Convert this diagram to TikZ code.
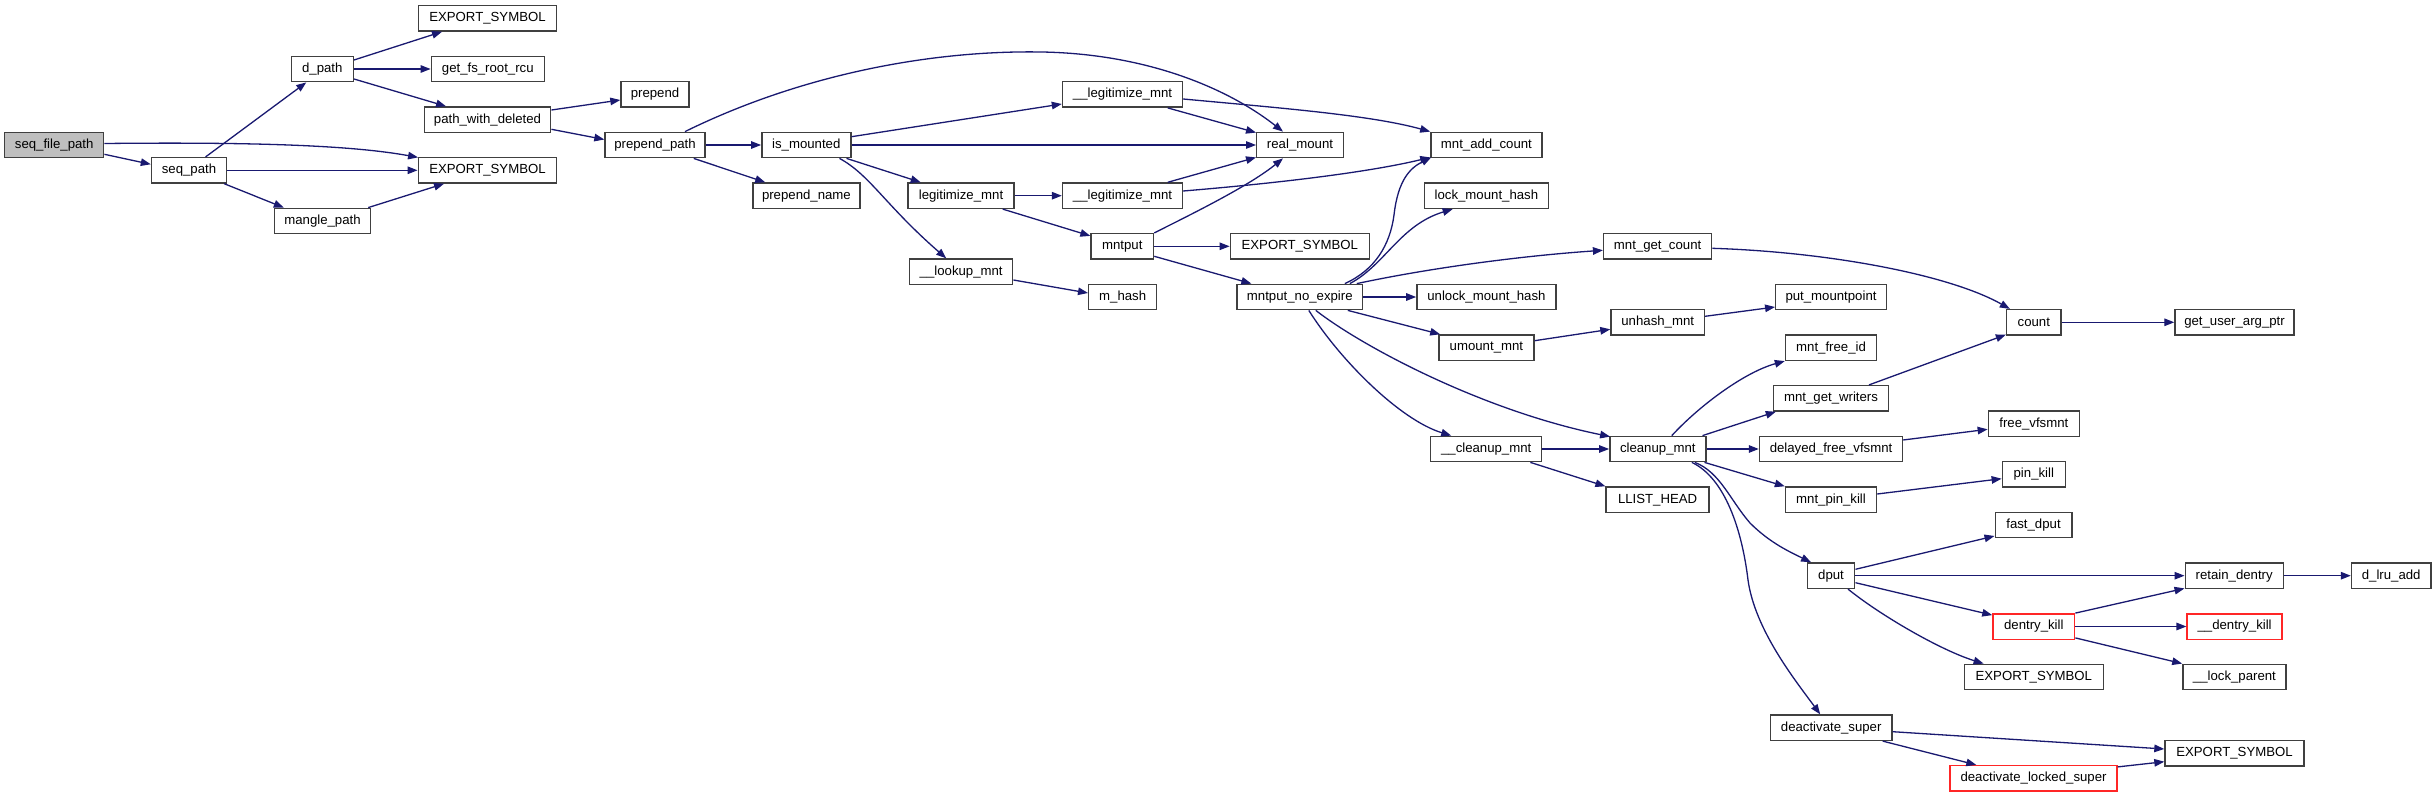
\documentclass[tikz,border=0pt]{standalone}
\usepackage{fontspec}
\setmainfont{Liberation Sans}
\usetikzlibrary{arrows.meta,calc}
\definecolor{edgec}{HTML}{191970}
\definecolor{boxc}{HTML}{404040}
\definecolor{redc}{HTML}{FF2626}
\definecolor{grayfill}{HTML}{BFBFBF}
\begin{document}
\begin{tikzpicture}[x=1pt,y=-1pt,
  fn/.style={draw=boxc,line width=1.4pt,fill=white,minimum height=25.4pt,inner sep=0pt,
    font=\fontsize{13.2}{15}\selectfont},
  redfn/.style={fn,draw=redc},
  rootfn/.style={fn,fill=grayfill},
  e/.style={draw=edgec,line width=1.3pt,-{Triangle[length=10pt,width=7.5pt]}}]
\useasboundingbox[fill=white] (0,0) rectangle (2436,797);
% nodes
\node[rootfn,minimum width=99pt] (sfp) at (54.2,145) {seq\_file\_path};
\node[fn,minimum width=75pt] (seqpath) at (189,170.3) {seq\_path};
\node[fn,minimum width=62pt] (dpath) at (322.3,69) {d\_path};
\node[fn,minimum width=138.5pt] (exp1) at (487.5,18.3) {EXPORT\_SYMBOL};
\node[fn,minimum width=113pt] (getfs) at (487.8,69) {get\_fs\_root\_rcu};
\node[fn,minimum width=126.5pt] (pwd) at (487.5,119.7) {path\_with\_deleted};
\node[fn,minimum width=138.5pt] (exp2) at (487.5,170.3) {EXPORT\_SYMBOL};
\node[fn,minimum width=96pt] (mangle) at (322.5,221) {mangle\_path};
\node[fn,minimum width=68pt] (prepend) at (655,94.5) {prepend};
\node[fn,minimum width=100pt] (ppath) at (655,145) {prepend\_path};
\node[fn,minimum width=89pt] (ismnt) at (806.3,145) {is\_mounted};
\node[fn,minimum width=107pt] (pname) at (806.4,195.7) {prepend\_name};
\node[fn,minimum width=120pt] (legtop) at (1122.5,94.5) {\_\_legitimize\_mnt};
\node[fn,minimum width=106pt] (legit) at (961,195.7) {legitimize\_mnt};
\node[fn,minimum width=120pt] (legbot) at (1122.5,195.7) {\_\_legitimize\_mnt};
\node[fn,minimum width=62.5pt] (mntput) at (1122.3,246.3) {mntput};
\node[fn,minimum width=103pt] (lookup) at (961.2,271.7) {\_\_lookup\_mnt};
\node[fn,minimum width=68pt] (mhash) at (1122.7,297) {m\_hash};
\node[fn,minimum width=86.6pt] (realmnt) at (1300,145) {real\_mount};
\node[fn,minimum width=111pt] (addcnt) at (1486.4,145) {mnt\_add\_count};
\node[fn,minimum width=124pt] (lockmh) at (1486.4,195.7) {lock\_mount\_hash};
\node[fn,minimum width=139pt] (exp3) at (1299.8,246.3) {EXPORT\_SYMBOL};
\node[fn,minimum width=125.5pt] (mne) at (1299.8,297) {mntput\_no\_expire};
\node[fn,minimum width=139pt] (unlockmh) at (1486.4,297) {unlock\_mount\_hash};
\node[fn,minimum width=108pt] (getcnt) at (1657.6,246.3) {mnt\_get\_count};
\node[fn,minimum width=110.5pt] (putmp) at (1831,297) {put\_mountpoint};
\node[fn,minimum width=93.4pt] (unhash) at (1657.7,322.3) {unhash\_mnt};
\node[fn,minimum width=95pt] (umount) at (1486.4,347.7) {umount\_mnt};
\node[fn,minimum width=91pt] (freeid) at (1831,347.7) {mnt\_free\_id};
\node[fn,minimum width=115pt] (getwr) at (1831,398.3) {mnt\_get\_writers};
\node[fn,minimum width=111pt] (ccleanup) at (1486.2,449) {\_\_cleanup\_mnt};
\node[fn,minimum width=96pt] (cleanup) at (1657.8,449) {cleanup\_mnt};
\node[fn,minimum width=143pt] (dfree) at (1831,449) {delayed\_free\_vfsmnt};
\node[fn,minimum width=103pt] (llist) at (1657.6,499.7) {LLIST\_HEAD};
\node[fn,minimum width=91pt] (pinkillm) at (1831,499.7) {mnt\_pin\_kill};
\node[fn,minimum width=54.5pt] (count) at (2033.8,322.3) {count};
\node[fn,minimum width=119pt] (getuap) at (2234.5,322.3) {get\_user\_arg\_ptr};
\node[fn,minimum width=91pt] (freevfs) at (2033.8,423.7) {free\_vfsmnt};
\node[fn,minimum width=63pt] (pinkill) at (2033.8,474.3) {pin\_kill};
\node[fn,minimum width=76.6pt] (fastdput) at (2033.5,525) {fast\_dput};
\node[fn,minimum width=47.5pt] (dput) at (1831,575.7) {dput};
\node[fn,minimum width=98pt] (retain) at (2234.2,575.7) {retain\_dentry};
\node[fn,minimum width=79.4pt] (dlru) at (2391.2,575.7) {d\_lru\_add};
\node[redfn,minimum width=81.7pt] (dkill) at (2033.8,626.5) {dentry\_kill};
\node[redfn,minimum width=95pt] (ddkill) at (2234.6,626.5) {\_\_dentry\_kill};
\node[fn,minimum width=139pt] (exp4) at (2033.8,677) {EXPORT\_SYMBOL};
\node[fn,minimum width=103pt] (lockpar) at (2234.4,677) {\_\_lock\_parent};
\node[fn,minimum width=121.5pt] (deact) at (1831.2,727.7) {deactivate\_super};
\node[fn,minimum width=139pt] (exp5) at (2234.5,753.3) {EXPORT\_SYMBOL};
\node[redfn,minimum width=167pt] (dls) at (2033.5,778.3) {deactivate\_locked\_super};
% edges
\draw[e] ($(sfp.east)+(0,9.3)$) -- ($(seqpath.west)+(0,-6)$);
\draw[e] ($(sfp.east)+(0,-1.5)$) .. controls (250,142) and (350,145) .. ($(exp2.north west)+(0.5,0.5)$);
\draw[e] ($(seqpath.north)+(16.6,0)$) -- ($(dpath.south)+(-16,0)$);
\draw[e] (seqpath.east) -- (exp2.west);
\draw[e] ($(seqpath.south east)+(-3,0)$) -- ($(mangle.north west)+(10,0)$);
\draw[e] ($(mangle.north east)+(-3,0)$) -- ($(exp2.south west)+(26.5,0)$);
\draw[e] ($(dpath.east)+(0,-9)$) -- ($(exp1.south west)+(24.5,0)$);
\draw[e] (dpath.east) -- (getfs.west);
\draw[e] ($(dpath.east)+(0,10)$) -- ($(pwd.north west)+(22.5,0)$);
\draw[e] ($(pwd.east)+(0,-9.7)$) -- ($(prepend.west)+(0,5.5)$);
\draw[e] ($(pwd.east)+(0,9.6)$) -- ($(ppath.west)+(0,-5.5)$);
\draw[e] (ppath.east) -- (ismnt.west);
\draw[e] ($(ppath.south east)+(-12,0)$) -- ($(pname.north west)+(13,0)$);
\draw[e] ($(ppath.north)+(30,0)$) .. controls (800,75) and (930,50) .. (1042,52)
  .. controls (1150,54) and (1230,90) .. ($(realmnt.north)+(-17,0)$);
\draw[e] ($(ismnt.east)+(0,-8.3)$) -- ($(legtop.west)+(0,9.5)$);
\draw[e] (ismnt.east) -- (realmnt.west);
\draw[e] ($(ismnt.south east)+(-5,0)$) -- ($(legit.north west)+(13.4,0)$);
\draw[e] ($(ismnt.south east)+(-12,0)$) .. controls (870,175) and (885,205) .. ($(lookup.north)+(-15,0)$);
\draw[e] (legit.east) -- (legbot.west);
\draw[e] ($(legit.south east)+(-12,0)$) -- ($(mntput.north west)+(0,3)$);
\draw[e] ($(lookup.east)+(0,8.3)$) -- ($(mhash.west)+(0,-4)$);
\draw[e] ($(legtop.south east)+(-15.5,0)$) -- ($(realmnt.north west)+(0,1)$);
\draw[e] ($(legtop.east)+(0,4.5)$) .. controls (1280,108) and (1370,115) .. (addcnt.north west);
\draw[e] ($(legbot.north east)+(-15.5,0)$) -- ($(realmnt.south west)+(0,-1)$);
\draw[e] ($(legbot.east)+(0,-4.7)$) .. controls (1280,183) and (1370,172) .. ($(addcnt.south west)+(0,-1)$);
\draw[e] (mntput.north east) .. controls (1200,210) and (1250,185) .. ($(realmnt.south)+(-17,0)$);
\draw[e] (mntput.east) -- (exp3.west);
\draw[e] ($(mntput.east)+(0,10)$) -- ($(mne.north west)+(15,0)$);
\draw[e] ($(mne.north)+(45,0)$) .. controls (1375,270) and (1390,245) .. (1394,215)
  .. controls (1398,180) and (1410,168) .. ($(addcnt.south west)+(1,-1)$);
\draw[e] ($(mne.north)+(50,0)$) .. controls (1385,265) and (1400,225) .. ($(lockmh.south west)+(29,0)$);
\draw[e] ($(mne.north)+(57,0)$) .. controls (1430,268) and (1520,256) .. ($(getcnt.west)+(0,4)$);
\draw[e] (mne.east) -- (unlockmh.west);
\draw[e] ($(mne.south)+(48,0)$) -- ($(umount.north west)+(2,0)$);
\draw[e] ($(mne.south)+(9,0)$) .. controls (1340,360) and (1400,420) .. ($(ccleanup.north)+(-35,0)$);
\draw[e] ($(mne.south)+(16,0)$) .. controls (1360,345) and (1480,410) .. ($(cleanup.north west)+(1,1)$);
\draw[e] ($(umount.east)+(0,-7)$) -- ($(unhash.west)+(0,7)$);
\draw[e] ($(unhash.east)+(0,-6)$) -- ($(putmp.west)+(0,10)$);
\draw[e] ($(getcnt.east)+(0,2)$) .. controls (1830,252) and (1950,275) .. ($(count.north west)+(4,0)$);
\draw[e] (ccleanup.east) -- (cleanup.west);
\draw[e] ($(ccleanup.south east)+(-12,0)$) -- (llist.north west);
\draw[e] ($(cleanup.north)+(14,0)$) .. controls (1700,405) and (1745,372) .. (freeid.south west);
\draw[e] ($(cleanup.north east)+(-4,0)$) -- ($(getwr.south west)+(3,0)$);
\draw[e] (cleanup.east) -- (dfree.west);
\draw[e] ($(cleanup.south east)+(-2,0)$) -- (pinkillm.north west);
\draw[e] ($(cleanup.south)+(37,0)$) .. controls (1720,472) and (1730,500) .. (1750,523)
  .. controls (1770,543) and (1790,552) .. ($(dput.north west)+(4.5,0)$);
\draw[e] ($(cleanup.south)+(34,0)$) .. controls (1725,478) and (1742,530) .. (1748,580)
  .. controls (1755,630) and (1795,680) .. ($(deact.north)+(-11,0)$);
\draw[e] ($(getwr.north)+(38,0)$) -- ($(count.south west)+(0,-1)$);
\draw[e] ($(dfree.east)+(0,-9)$) -- ($(freevfs.west)+(0,5.6)$);
\draw[e] ($(pinkillm.east)+(0,-5.7)$) -- ($(pinkill.west)+(0,4.4)$);
\draw[e] (count.east) -- (getuap.west);
\draw[e] ($(dput.east)+(0,-6.4)$) -- ($(fastdput.west)+(0,11)$);
\draw[e] (dput.east) -- (retain.west);
\draw[e] ($(dput.east)+(0,7)$) -- ($(dkill.north west)+(0,2)$);
\draw[e] ($(dput.south)+(17,0)$) .. controls (1880,615) and (1940,650) .. ($(exp4.north west)+(20,0)$);
\draw[e] (retain.east) -- (dlru.west);
\draw[e] (dkill.north east) -- ($(retain.south west)+(0,-0.7)$);
\draw[e] (dkill.east) -- (ddkill.west);
\draw[e] ($(dkill.south east)+(0,-2)$) -- (lockpar.north west);
\draw[e] ($(deact.east)+(0,4)$) -- ($(exp5.west)+(0,-4.3)$);
\draw[e] ($(deact.south east)+(-10,0)$) -- ($(dls.north west)+(27,0)$);
\draw[e] ($(dls.north east)+(0,2)$) -- ($(exp5.west)+(0,8.4)$);
\end{tikzpicture}
\end{document}
